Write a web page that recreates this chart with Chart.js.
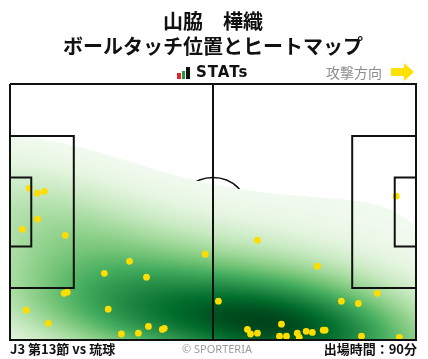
<!DOCTYPE html>
<html lang="ja">
<head>
<meta charset="utf-8">
<script src="https://cdn.jsdelivr.net/npm/chart.js@4.4.1/dist/chart.umd.min.js"></script>
<style>
  html, body { margin: 0; padding: 0; background: #fff; }
  #wrap { position: relative; width: 428px; height: 359px; overflow: hidden; }
  canvas { position: absolute; left: 0; top: 0; }
  .t { position: absolute; white-space: nowrap; font-family: 'Noto Sans CJK JP', 'Noto Sans', sans-serif; }
</style>
</head>
<body>
<div id="wrap">
  <canvas id="c" width="428" height="359"></canvas>
  <div class="t" style="left:177px;top:73px;width:4px;height:6px;background:#e0262b"></div>
  <div class="t" style="left:182px;top:71px;width:3px;height:8px;background:#1e9a3c"></div>
  <div class="t" style="left:186px;top:67px;width:4px;height:12px;background:#111"></div>
  <div class="t" style="left:196px;top:63px;font-family:'DejaVu Sans',sans-serif;font-weight:bold;font-size:15px;line-height:19px;letter-spacing:1px;color:#111">STATs</div>
  <div class="t" style="left:326px;top:63px;font-size:14px;line-height:18px;color:#8c8c8c">攻撃方向</div>
  <svg class="t" style="left:388px;top:60px" width="30" height="24" viewBox="0 0 30 24">
    <polygon points="3,8 16,8 16,3 26,12 16,21 16,16 3,16" fill="#ffe100"/>
  </svg>
  <div class="t" style="left:10px;top:340px;font-size:13px;line-height:18px;font-weight:bold;color:#111">J3 第13節 vs 琉球</div>
  <div class="t" style="left:182px;top:341px;font-family:'Noto Sans',sans-serif;font-size:11px;line-height:16px;color:#9a9a9a">© SPORTERIA</div>
  <div class="t" style="right:11px;top:340px;font-size:13px;line-height:18px;font-weight:bold;color:#111">出場時間：90分</div>
</div>
<script>
// ---- data (pitch metres: x 0-105 attacking to the right, y 0-68 from top) ----
const titleLines = ['山脇　樺織', 'ボールタッチ位置とヒートマップ'];
const touchX = [5.0, 7.1, 8.9, 7.1, 3.2, 14.3, 14.0, 14.8, 4.2, 9.9, 24.4, 30.9, 35.3, 50.5, 25.4, 28.8, 33.2, 35.8, 39.4, 39.9, 53.9, 61.4, 62.2, 64.0, 70.2, 69.7, 71.5, 74.3, 74.8, 76.6, 78.2, 81.0, 81.5, 95.0, 85.7, 90.1, 90.9, 100.7, 64.0, 79.5, 99.9];
const touchY = [27.7, 29.0, 28.5, 35.9, 38.6, 40.2, 55.6, 55.3, 60.1, 63.6, 50.3, 47.1, 51.3, 45.2, 59.8, 66.4, 66.2, 64.4, 65.2, 64.9, 57.7, 65.2, 66.4, 66.2, 63.8, 67.0, 67.0, 66.2, 67.3, 65.7, 66.0, 65.4, 65.4, 55.6, 57.7, 58.3, 67.0, 67.3, 41.5, 48.4, 29.8];
const outline = [[0,0],[105,0],[105,68],[0,68],[0,0]];
const halfway = [[52.5,0],[52.5,68]];
const leftBox = [[0,13.84],[16.5,13.84],[16.5,54.16],[0,54.16]];
const leftGoalArea = [[0,24.84],[5.5,24.84],[5.5,43.16],[0,43.16]];
const rightBox = [[105,13.84],[88.5,13.84],[88.5,54.16],[105,54.16]];
const rightGoalArea = [[105,24.84],[99.5,24.84],[99.5,43.16],[105,43.16]];
const centreCircle = {x: 52.5, y: 34, r: 9.15};

const greens = [[247,252,245],[229,245,224],[199,233,192],[161,217,155],[116,196,118],[65,171,93],[35,139,69],[0,109,44],[0,68,27]];
function greenAt(t) {
  t = Math.max(0, Math.min(1, t)) * (greens.length - 1);
  const i = Math.min(greens.length - 2, Math.floor(t)), f = t - i;
  return greens[i].map((c, k) => c + (greens[i + 1][k] - c) * f);
}

const heatPlugin = {
  id: 'heat',
  beforeDatasetsDraw(chart) {
    const {ctx, chartArea: ca, scales: {x, y}} = chart;
    // centre circle (lies under the heat map)
    const cx = x.getPixelForValue(centreCircle.x), cy = y.getPixelForValue(centreCircle.y);
    const rx = Math.abs(x.getPixelForValue(centreCircle.x + centreCircle.r) - cx);
    const ry = Math.abs(y.getPixelForValue(centreCircle.y + centreCircle.r) - cy);
    ctx.save();
    ctx.beginPath();
    ctx.ellipse(cx, cy, rx, ry, 0, 0, Math.PI * 2);
    ctx.lineWidth = 1.5; ctx.strokeStyle = '#111'; ctx.stroke();
    ctx.restore();
    // gaussian KDE of the touches (Scott bandwidth, widened)
    const n = touchX.length;
    const mx = touchX.reduce((a, b) => a + b, 0) / n, my = touchY.reduce((a, b) => a + b, 0) / n;
    let sxx = 0, syy = 0, sxy = 0;
    for (let i = 0; i < n; i++) { const dx = touchX[i] - mx, dy = touchY[i] - my; sxx += dx*dx; syy += dy*dy; sxy += dx*dy; }
    const f2 = Math.pow(n, -1/3);
    const adjX = 1.45, adjY = 1.6;
    const a = sxx/(n-1)*f2*adjX*adjX, b = sxy/(n-1)*f2*adjX*adjY, d = syy/(n-1)*f2*adjY*adjY;
    const det = a*d - b*b, i0 = d/det, i1 = -b/det, i2 = a/det;
    const w = Math.round(ca.right - ca.left), h = Math.round(ca.bottom - ca.top);
    const vals = new Float32Array(w*h);
    let vmax = 0;
    for (let py = 0; py < h; py++) {
      const vy = y.getValueForPixel(ca.top + py + 0.5);
      for (let px = 0; px < w; px++) {
        const vx = x.getValueForPixel(ca.left + px + 0.5);
        let s = 0;
        for (let k = 0; k < n; k++) {
          const dx = vx - touchX[k], dy = vy - touchY[k];
          s += Math.exp(-0.5 * (i0*dx*dx + 2*i1*dx*dy + i2*dy*dy));
        }
        vals[py*w + px] = s; if (s > vmax) vmax = s;
      }
    }
    const off = document.createElement('canvas'); off.width = w; off.height = h;
    const octx = off.getContext('2d');
    const img = octx.createImageData(w, h);
    const thr = 0.075;
    for (let p = 0; p < w*h; p++) {
      const v = vals[p] / vmax;
      if (v < thr) continue;
      const c = greenAt(0.04 + 0.96 * Math.pow((v - thr) / (1 - thr), 1.15));
      img.data[p*4] = c[0]; img.data[p*4+1] = c[1]; img.data[p*4+2] = c[2]; img.data[p*4+3] = 255;
    }
    octx.putImageData(img, 0, 0);
    ctx.drawImage(off, ca.left, ca.top);
  }
};

const toPts = arr => arr.map(p => ({x: p[0], y: p[1]}));
const lineDs = arr => ({data: toPts(arr), showLine: true, pointRadius: 0, borderColor: '#111', borderWidth: 2, fill: false, order: 0, clip: 4, borderJoinStyle: 'miter'});

new Chart(document.getElementById('c'), {
  type: 'scatter',
  data: {
    datasets: [
      lineDs(outline), lineDs(halfway), lineDs(leftBox), lineDs(leftGoalArea), lineDs(rightBox), lineDs(rightGoalArea),
      {data: touchX.map((v, i) => ({x: v, y: touchY[i]})), pointRadius: 3.4, pointBackgroundColor: '#ffdd00', pointBorderWidth: 0, order: 1}
    ]
  },
  options: {
    responsive: false, animation: false, events: [],
    layout: {padding: {left: 10, right: 12, top: 0, bottom: 19}},
    scales: {
      x: {type: 'linear', min: 0, max: 105, display: false},
      y: {type: 'linear', min: 0, max: 68, reverse: true, display: false}
    },
    plugins: {
      legend: {display: false}, tooltip: {enabled: false},
      title: {display: true, text: titleLines, color: '#111', font: {family: "'Noto Sans CJK JP', sans-serif", size: 20, weight: 'bold', lineHeight: 1.25}, padding: {top: 8.5, bottom: 25.5}}
    }
  },
  plugins: [heatPlugin]
});
</script>
</body>
</html>
